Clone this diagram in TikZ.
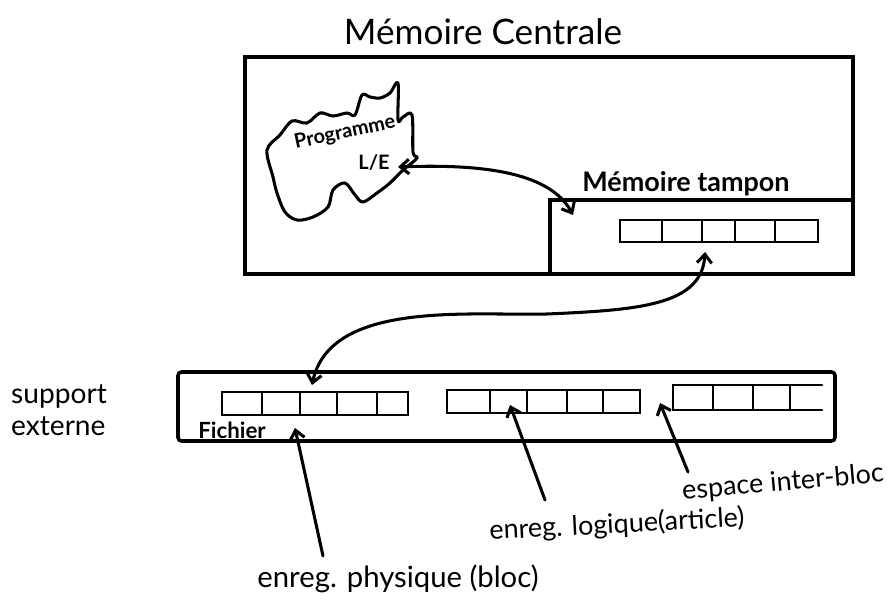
\documentclass[tikz,border=0pt]{standalone}
\usepackage{fontspec}
\setmainfont{Lato}
\usetikzlibrary{arrows.meta,fit}
\begin{document}
\begin{tikzpicture}[x=0.03cm,y=-0.03cm,
  box/.style={draw, line width=3pt, inner sep=0pt},
  cellrow/.style={draw, line width=2.4pt, inner sep=0pt},
  cellsep/.style={line width=2.4pt},
  link/.style={line width=2.6pt, line cap=round,
    {Straight Barb[length=2.6mm,width=4.4mm]}-{Straight Barb[length=2.6mm,width=4.4mm]}},
  pointer/.style={line width=2.6pt, line cap=round, -{Straight Barb[length=2.6mm,width=4.4mm]}},
  hand/.style={inner sep=0pt, align=left}
]
\useasboundingbox (0,0) rectangle (887,600);

% title
\node[hand, font=\fontsize{30}{36}\selectfont] (title) at (483,32) {Mémoire Centrale};

% central memory box and buffer box
\coordinate (mc-nw) at (245,57);
\coordinate (mc-se) at (853,274);
\node[box, fit=(mc-nw)(mc-se)] (mc) {};
\coordinate (mt-nw) at (550,200);
\node[box, fit=(mt-nw)(mc-se)] (mt) {};
\node[hand, font=\bfseries\fontsize{23}{27}\selectfont] (mtlbl) at (686,184) {Mémoire tampon};

% buffer cells
\coordinate (buf-nw) at (620,220);
\coordinate (buf-se) at (818,242);
\node[cellrow, fit=(buf-nw)(buf-se)] (buf) {};
\foreach \x in {662,702,735,775} \draw[cellsep] (\x,220) -- (\x,242);

% program cloud
\draw[line width=2.6pt, line join=round]
  plot[smooth cycle, tension=0.55] coordinates {
   (267,150) (280,135) (292,121) (307,123) (320,113) (333,116) (347,113) (355,115)
   (362,95) (370,97) (380,98) (390,93) (398,83) (398,120) (403,117) (412,115)
   (413,152) (417,158) (403,170) (390,183) (377,193) (363,202) (355,195) (345,183)
   (333,190) (328,207) (313,217) (297,220) (285,212) (277,193) (273,177)};
\node[hand, rotate=12, font=\bfseries\fontsize{17}{20}\selectfont] (prog) at (345,133) {Programme};
\node[hand, font=\bfseries\fontsize{17}{20}\selectfont] (le) at (374,163) {L/E};

% arrow program <-> buffer
\coordinate (a1) at (398,167);
\coordinate (a2) at (573,215);
\draw[link] (a1) .. controls (500,163) and (553,178) .. (a2);

% file box
\coordinate (f-nw) at (178,372);
\coordinate (f-se) at (835,441);
\node[box, rounded corners=3pt, fit=(f-nw)(f-se)] (file) {};
\node[hand, font=\bfseries\fontsize{19}{22}\selectfont] (fich) at (232,430) {Fichier};

% block 1
\coordinate (b1-nw) at (222,392);
\coordinate (b1-se) at (408,415);
\node[cellrow, fit=(b1-nw)(b1-se)] (blk1) {};
\foreach \x in {262,300,337,377} \draw[cellsep] (\x,392) -- (\x,415);
% block 2
\coordinate (b2-nw) at (447,390);
\coordinate (b2-se) at (640,413);
\node[cellrow, fit=(b2-nw)(b2-se)] (blk2) {};
\foreach \x in {490,527,567,603} \draw[cellsep] (\x,390) -- (\x,413);
% block 3 (open at right)
\coordinate (b3-tr) at (822,385);
\coordinate (b3-tl) at (673,385);
\coordinate (b3-bl) at (673,410);
\coordinate (b3-br) at (822,410);
\draw[cellsep, line cap=round] (b3-tr) -- (b3-tl) -- (b3-bl) -- (b3-br);
\foreach \x in {713,753,790} \draw[cellsep] (\x,385) -- (\x,410);

% arrow buffer <-> file
\coordinate (c1) at (705,252);
\coordinate (c2) at (312,385);
\draw[link] (c1) .. controls (702,305) and (640,310) .. (547,314)
                .. controls (470,316) and (330,300) .. (c2);

% side label
\node[hand, font=\fontsize{24}{27}\selectfont] (supp) at (59,410) {support\\externe};

% bottom labels and pointers
\node[hand, font=\fontsize{25}{29}\selectfont] (phys) at (398,579) {enreg. physique (bloc)};
\coordinate (p1) at (323,556);
\coordinate (p2) at (295,428);
\draw[pointer] (p1) -- (p2);

\node[hand, rotate=3, font=\fontsize{23}{27}\selectfont] (logi) at (617,525) {enreg. logique(article)};
\coordinate (l1) at (545,500);
\coordinate (l2) at (510,405);
\draw[pointer] (l1) -- (l2);

\node[hand, rotate=5, font=\fontsize{23}{27}\selectfont] (esp) at (783,483) {espace inter-bloc};
\coordinate (e1) at (688,472);
\coordinate (e2) at (660,403);
\draw[pointer] (e1) -- (e2);
\end{tikzpicture}
\end{document}
